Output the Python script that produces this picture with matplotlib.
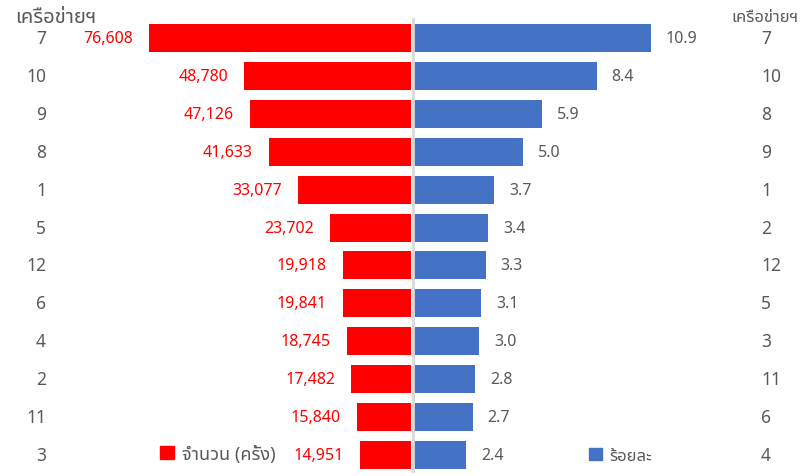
import matplotlib
matplotlib.use('Agg')
import matplotlib.pyplot as plt
import matplotlib.transforms as mtransforms
from matplotlib.patches import Patch

plt.rcParams['font.family'] = ['Noto Sans', 'Noto Sans Thai']

# จำนวนครั้ง เรียงตามเครือข่าย (ฝั่งซ้าย)
left_nets = ['7', '10', '9', '8', '1', '5', '12', '6', '4', '2', '11', '3']
counts = [76608, 48780, 47126, 41633, 33077, 23702, 19918, 19841, 18745, 17482, 15840, 14951]

# ร้อยละ เรียงตามเครือข่าย (ฝั่งขวา)
right_nets = ['7', '10', '8', '9', '1', '2', '12', '5', '3', '11', '6', '4']
pct = [10.9, 8.4, 5.9, 5.0, 3.7, 3.4, 3.3, 3.1, 3.0, 2.8, 2.7, 2.4]

header = 'เครือข่ายฯ'
legend_left = 'จำนวน (ครั้ง)'
legend_right = 'ร้อยละ'

RED = '#FF0000'
BLUE = '#4472C4'
GRAY = '#595959'

W, H = 810, 477
fig = plt.figure(figsize=(W / 100, H / 100), dpi=100)

top_px, bot_px = 20, 475
y0 = 1 - bot_px / H
h = (bot_px - top_px) / H

# left half: counts, growing to the left
axl = fig.add_axes([0, y0, 411 / W, h])
# right half: percentages, growing to the right
axr = fig.add_axes([414 / W, y0, (W - 414) / W, h])

rows = list(range(len(counts)))
axl.barh(rows, counts, height=0.74, color=RED)
axr.barh(rows, pct, height=0.74, color=BLUE)

axl.set_xlim(max(counts) * 411 / 262, 0)
axr.set_xlim(0, max(pct) * (W - 414) / 237)
for ax in (axl, axr):
    ax.set_ylim(len(rows) - 0.5, -0.5)
    ax.axis('off')

for i, v in enumerate(counts):
    axl.annotate(f'{v:,}', (v, i), xytext=(-16, 0), textcoords='offset pixels',
                 ha='right', va='center', color=RED, fontsize=11.5)
for i, v in enumerate(pct):
    axr.annotate(f'{v:.1f}', (v, i), xytext=(15, 0), textcoords='offset pixels',
                 ha='left', va='center', color=GRAY, fontsize=11.5)

# network labels on both outer sides
tl = mtransforms.blended_transform_factory(fig.transFigure, axl.transData)
for i, n in enumerate(left_nets):
    fig.text(46 / W, i, n, transform=tl, ha='right', va='center', color=GRAY, fontsize=12.5)
for i, n in enumerate(right_nets):
    fig.text(761 / W, i, n, transform=tl, ha='left', va='center', color=GRAY, fontsize=12.5)

fig.text(56 / W, 1 - 18 / H, header, ha='center', va='center', color=GRAY, fontsize=14.5)
fig.text(765 / W, 1 - 18 / H, header, ha='center', va='center', color=GRAY, fontsize=12)

# center divider
fig.add_artist(plt.Line2D([412.5 / W, 412.5 / W], [1 - 472 / H, 1 - 20 / H],
                          color='#D9D9D9', lw=2))

fig.legend(handles=[Patch(color=RED, label=legend_left)], loc='center left',
           bbox_to_anchor=(160 / W, 1 - 455 / H), frameon=False, fontsize=13,
           handlelength=0.75, handleheight=0.75, handletextpad=0.45,
           borderpad=0, borderaxespad=0, labelcolor=GRAY)
fig.legend(handles=[Patch(color=BLUE, label=legend_right)], loc='center left',
           bbox_to_anchor=(589 / W, 1 - 457 / H), frameon=False, fontsize=12,
           handlelength=0.75, handleheight=0.75, handletextpad=0.45,
           borderpad=0, borderaxespad=0, labelcolor=GRAY)

fig.savefig('out.png', dpi=100)
